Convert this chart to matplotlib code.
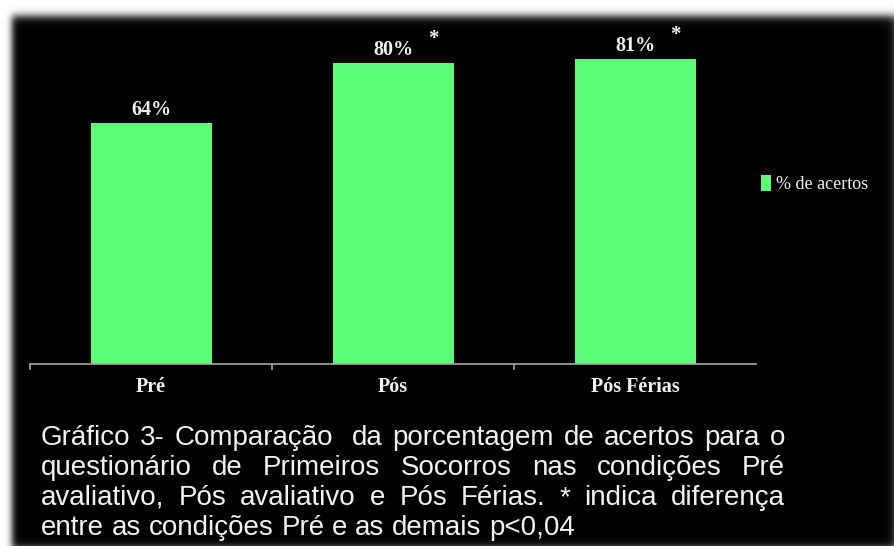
import re
import numpy as np
import matplotlib
matplotlib.use("Agg")
import matplotlib.pyplot as plt
from matplotlib.patches import Patch

# data
categories = ["Pré", "Pós", "Pós Férias"]
acertos = [64, 80, 81]
signif = ["", "*", "*"]
legend_label = "% de acertos"
caption_lines = [
    "Gráfico 3- Comparação  da porcentagem de acertos para o",
    "questionário de Primeiros Socorros nas condições Pré",
    "avaliativo, Pós avaliativo e Pós Férias. * indica diferença",
    "entre as condições Pré e as demais p<0,04",
]

W, H = 894, 546
bar_color = "#5cfc78"
txt_color = "#f2f2f2"
axis_color = "#a8a8a8"
serif = "Liberation Serif"
sans = "Liberation Sans"

fig = plt.figure(figsize=(W / 100, H / 100), dpi=100)
fig.patch.set_facecolor("white")

# black panel with soft blurred edge
bg = fig.add_axes([0, 0, 1, 1])
bg.set_axis_off()
xs = np.arange(W) + 0.5
ys = np.arange(H) + 0.5
dx = 0.5 * (1 + np.tanh((xs - 12) / 4)) * 0.5 * (1 + np.tanh((898 - xs) / 6))
dy = 0.5 * (1 + np.tanh((ys - 16) / 5)) * 0.5 * (1 + np.tanh((549 - ys) / 5))
bg.imshow(1 - np.outer(dy, dx), cmap="gray", vmin=0, vmax=1,
          extent=[0, 1, 0, 1], aspect="auto", interpolation="bilinear")
bg.set_xlim(0, 1)
bg.set_ylim(0, 1)

# bar chart
ax = fig.add_axes([30 / W, (H - 364) / H, 726 / W, 339 / H])
ax.set_facecolor("none")
x = np.arange(len(categories))
ax.bar(x, acertos, width=0.5, color=bar_color)
ax.set_xlim(-0.5, len(categories) - 0.5)
ax.set_ylim(0, 90)
for s in ["top", "left", "right"]:
    ax.spines[s].set_visible(False)
ax.spines["bottom"].set_color(axis_color)
ax.spines["bottom"].set_linewidth(1.2)
ax.set_yticks([])
ax.set_xticks(x, categories)
ax.set_xticks(np.arange(len(categories)) - 0.5, minor=True)
ax.tick_params(axis="x", which="major", length=0, pad=9, labelcolor=txt_color)
ax.tick_params(axis="x", which="minor", length=4.5, width=1.2,
               color=axis_color, direction="out")
for lab in ax.get_xticklabels():
    lab.set_fontfamily(serif)
    lab.set_fontweight("bold")
    lab.set_fontsize(14.5)

for i, (v, s) in enumerate(zip(acertos, signif)):
    ax.annotate(f"{v}%", (i, v), xytext=(0, 2), textcoords="offset points",
                ha="center", va="bottom", color=txt_color,
                fontfamily=serif, fontweight="bold", fontsize=14.5)
    if s:
        ax.annotate(s, (i, v), xytext=(29, 10), textcoords="offset points",
                    ha="center", va="bottom", color=txt_color,
                    fontfamily=serif, fontweight="bold", fontsize=15)

fig.legend([Patch(facecolor=bar_color)], [legend_label], loc="center left",
           bbox_to_anchor=(761 / W, 1 - 184 / H), frameon=False,
           prop={"family": serif, "size": 13}, labelcolor=txt_color,
           handlelength=0.55, handleheight=1.0, handletextpad=0.3,
           borderpad=0, borderaxespad=0)

# justified caption
renderer = fig.canvas.get_renderer()
left, right = 41, 785
baselines = [445, 475, 505, 535]
cap_kw = dict(fontfamily=sans, fontsize=20, color=txt_color, va="baseline",
              ha="left")
for k, (line, yb) in enumerate(zip(caption_lines, baselines)):
    parts = re.split(r"( +)", line)
    words = parts[0::2]
    spaces = [len(p) for p in parts[1::2]]
    texts = [fig.text(0, 1 - yb / H, w, transform=fig.transFigure, **cap_kw)
             for w in words]
    widths = [t.get_window_extent(renderer).width for t in texts]
    sp = fig.text(0, 0, "a a", **cap_kw)
    sw = sp.get_window_extent(renderer).width
    sp2 = fig.text(0, 0, "aa", **cap_kw)
    sw -= sp2.get_window_extent(renderer).width
    sp.remove()
    sp2.remove()
    if k < len(caption_lines) - 1:
        unit = (right - left - sum(widths)) / sum(spaces)
    else:
        unit = sw
    pos = left
    for j, t in enumerate(texts):
        t.set_x(pos / W)
        pos += widths[j]
        if j < len(spaces):
            pos += unit * spaces[j]

fig.savefig("out.png", dpi=100)
